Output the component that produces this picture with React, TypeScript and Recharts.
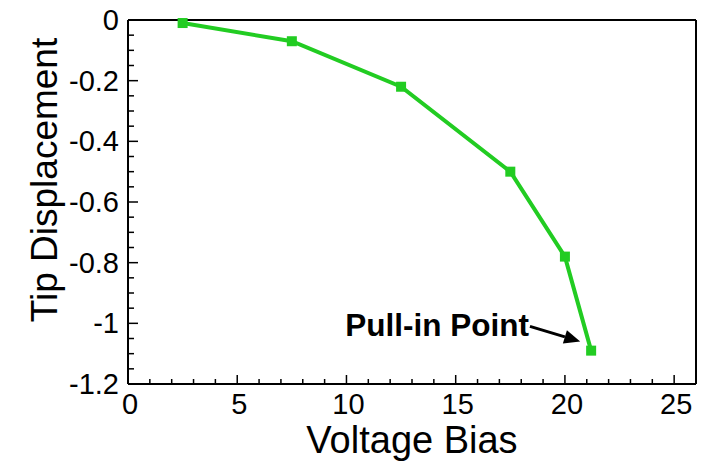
import React from 'react';
import {
  LineChart,
  Line,
  XAxis,
  YAxis,
  ReferenceLine,
} from 'recharts';

const voltage = [2.5, 7.5, 12.5, 17.5, 20, 21.2];
const displacement = [-0.01, -0.07, -0.22, -0.5, -0.78, -1.09];

// every tick position; multiples of 5 (x) and 0.2 (y) get labels
const xTicks = [0, 1, 2, 3, 4, 5, 6, 7, 8, 9, 10, 11, 12, 13, 14, 15, 16, 17, 18, 19, 20, 21, 22, 23, 24, 25];
const yTicks = [
  0, -0.05, -0.1, -0.15, -0.2, -0.25, -0.3, -0.35, -0.4, -0.45, -0.5, -0.55, -0.6,
  -0.65, -0.7, -0.75, -0.8, -0.85, -0.9, -0.95, -1, -1.05, -1.1, -1.15, -1.2,
];

const pullIn = { label: 'Pull-in Point', from: [18.4, -1.01], to: [20.7, -1.06] };

const data = voltage.map((v, i) => ({ v, d: displacement[i] }));

const FONT = "Arial, 'Liberation Sans', sans-serif";
const GREEN = '#22cc22';

const XTick = (props: any) => {
  const { x, y, payload } = props;
  const major = payload.value % 5 === 0;
  return (
    <g>
      <line x1={x} y1={y} x2={x} y2={y - (major ? 9 : 5)} stroke="#000" strokeWidth={1.5} />
      {major && (
        <text x={x + 2} y={y + 30} textAnchor="middle" fontSize={29} fontFamily={FONT} fill="#000">
          {payload.value}
        </text>
      )}
    </g>
  );
};

const YTick = (props: any) => {
  const { x, y, payload } = props;
  const major = Math.round(payload.value * 100) % 20 === 0;
  return (
    <g>
      <line x1={x} y1={y} x2={x + (major ? 10 : 6)} y2={y} stroke="#000" strokeWidth={1.5} />
      {major && (
        <text x={x - 9} y={y + 10} textAnchor="end" fontSize={29} fontFamily={FONT} fill="#000">
          {String(Math.round(payload.value * 10) / 10)}
        </text>
      )}
    </g>
  );
};

const SquareDot = (props: any) => {
  const { cx, cy } = props;
  if (cx == null || cy == null) return null;
  return <rect x={cx - 5} y={cy - 5} width={10} height={10} fill={GREEN} />;
};

const Arrow = (props: any) => {
  const { x1, y1, x2, y2 } = props;
  const ang = Math.atan2(y2 - y1, x2 - x1);
  const len = 16;
  const w = 7;
  const bx = x2 - len * Math.cos(ang);
  const by = y2 - len * Math.sin(ang);
  const px = -Math.sin(ang) * w;
  const py = Math.cos(ang) * w;
  return (
    <g>
      <line x1={x1} y1={y1} x2={bx} y2={by} stroke="#000" strokeWidth={3} />
      <polygon points={`${x2},${y2} ${bx + px},${by + py} ${bx - px},${by - py}`} fill="#000" />
      <text x={x1 - 1} y={y1 + 10} textAnchor="end" fontSize={31.5} fontWeight="bold" fontFamily={FONT} fill="#000">
        {pullIn.label}
      </text>
    </g>
  );
};

export default function App() {
  return (
    <div style={{ position: 'absolute', left: 0, top: 0, background: '#fff' }}>
      <LineChart width={708} height={462} data={data} margin={{ top: 19, right: 11, bottom: 77, left: 127 }}>
        <XAxis
          type="number"
          dataKey="v"
          domain={[0, 26]}
          ticks={xTicks}
          interval={0}
          tickLine={false}
          tickSize={0}
          tickMargin={0}
          height={1}
          tick={<XTick />}
          axisLine={{ stroke: '#000', strokeWidth: 2 }}
          label={{
            value: 'Voltage Bias',
            position: 'insideBottom',
            content: (p: any) => (
              <text
                x={p.viewBox.x + p.viewBox.width / 2}
                y={p.viewBox.y + 69}
                textAnchor="middle"
                fontSize={38}
                fontFamily={FONT}
                fill="#000"
              >
                Voltage Bias
              </text>
            ),
          }}
        />
        <XAxis xAxisId="top" orientation="top" type="number" domain={[0, 26]} tick={false} tickLine={false} height={1} axisLine={{ stroke: '#000', strokeWidth: 2 }} />
        <YAxis
          type="number"
          domain={[-1.2, 0]}
          ticks={yTicks}
          interval={0}
          tickLine={false}
          tickSize={0}
          tickMargin={0}
          width={1}
          tick={<YTick />}
          axisLine={{ stroke: '#000', strokeWidth: 2 }}
          label={{
            value: 'Tip Displacement',
            content: (p: any) => {
              const cx = 44;
              const cy = p.viewBox.y + p.viewBox.height / 2 - 22;
              return (
                <text
                  x={cx}
                  y={cy}
                  transform={`rotate(-90 ${cx} ${cy})`}
                  textAnchor="middle"
                  dominantBaseline="central"
                  fontSize={37}
                  fontFamily={FONT}
                  fill="#000"
                >
                  Tip Displacement
                </text>
              );
            },
          }}
        />
        <YAxis yAxisId="right" orientation="right" type="number" domain={[-1.2, 0]} tick={false} tickLine={false} width={1} axisLine={{ stroke: '#000', strokeWidth: 2 }} />
        <Line
          type="linear"
          dataKey="d"
          stroke={GREEN}
          strokeWidth={4}
          dot={<SquareDot />}
          activeDot={false}
          isAnimationActive={false}
        />
        <ReferenceLine
          segment={[
            { x: pullIn.from[0], y: pullIn.from[1] },
            { x: pullIn.to[0], y: pullIn.to[1] },
          ]}
          ifOverflow="visible"
          shape={<Arrow />}
        />
      </LineChart>
    </div>
  );
}
